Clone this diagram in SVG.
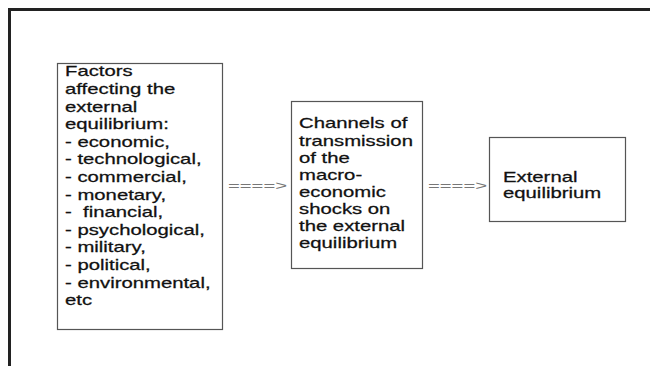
<svg xmlns="http://www.w3.org/2000/svg" width="650" height="366" viewBox="0 0 650 366">
<style>
.frame{stroke:#222;stroke-width:3;fill:none}
.box{fill:#fff;stroke:#555;stroke-width:1.2}
.t{font-family:"Liberation Sans",Arial,sans-serif;font-size:14.2px;fill:#111;stroke:#111;stroke-width:0.25;white-space:pre}
.arr{font-family:"Liberation Sans",Arial,sans-serif;font-size:13.5px;fill:#777;white-space:pre}
</style>
<rect width="650" height="366" fill="#fff"/>
<g id="frame">
<line class="frame" x1="8" y1="9.5" x2="650" y2="9.5"/>
<line class="frame" x1="9.5" y1="8" x2="9.5" y2="366"/>
</g>
<g id="factors">
<rect class="box" x="57.5" y="63.5" width="165" height="266"/>
<text class="t" transform="translate(65,0) scale(1.43,1)">
<tspan x="0" y="76.5">Factors</tspan>
<tspan x="0" y="94.1">affecting the</tspan>
<tspan x="0" y="111.7">external</tspan>
<tspan x="0" y="129.3">equilibrium:</tspan>
<tspan x="0" y="146.9">- economic,</tspan>
<tspan x="0" y="164.5">- technological,</tspan>
<tspan x="0" y="182.1">- commercial,</tspan>
<tspan x="0" y="199.7">- monetary,</tspan>
<tspan x="0" y="217.3">-  financial,</tspan>
<tspan x="0" y="234.9">- psychological,</tspan>
<tspan x="0" y="252.5">- military,</tspan>
<tspan x="0" y="270.1">- political,</tspan>
<tspan x="0" y="287.7">- environmental,</tspan>
<tspan x="0" y="305.3">etc</tspan>
</text>
</g>
<g id="channels">
<rect class="box" x="291.5" y="101.5" width="131" height="167"/>
<text class="t" transform="translate(299,0) scale(1.43,1)">
<tspan x="0" y="128.5">Channels of</tspan>
<tspan x="0" y="145.6">transmission</tspan>
<tspan x="0" y="162.7">of the</tspan>
<tspan x="0" y="179.8">macro-</tspan>
<tspan x="0" y="196.9">economic</tspan>
<tspan x="0" y="214">shocks on</tspan>
<tspan x="0" y="231.1">the external</tspan>
<tspan x="0" y="248.2">equilibrium</tspan>
</text>
</g>
<g id="external">
<rect class="box" x="489.5" y="137.5" width="136" height="84"/>
<text class="t" transform="translate(503,0) scale(1.43,1)">
<tspan x="0" y="182">External</tspan>
<tspan x="0" y="198">equilibrium</tspan>
</text>
</g>
<g id="connectors">
<text class="arr" transform="translate(228,0) scale(1.5,1)" x="0" y="190">====&gt;</text>
<text class="arr" transform="translate(428,0) scale(1.5,1)" x="0" y="190">====&gt;</text>
</g>
</svg>
